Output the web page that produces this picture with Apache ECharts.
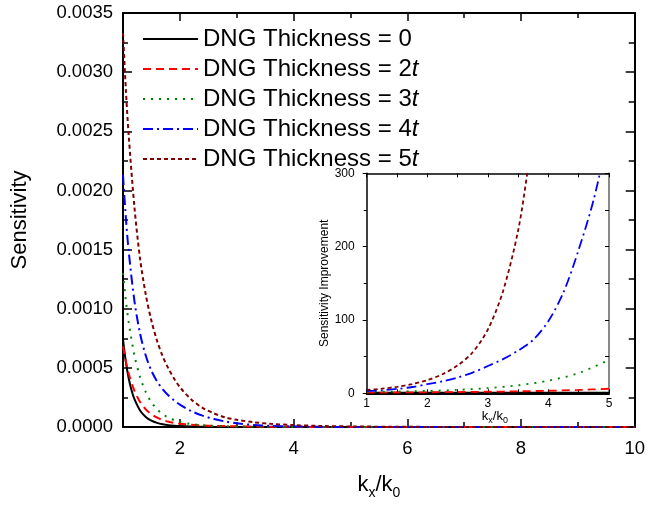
<!DOCTYPE html>
<html>
<head>
<meta charset="utf-8">
<script src="https://cdn.jsdelivr.net/npm/echarts@6/dist/echarts.min.js"></script>
<style>
  html, body { margin: 0; padding: 0; background: #fff; }
  #chart { width: 648px; height: 505px; }
</style>
</head>
<body>
<div id="chart"></div>
<script>
// ---------- main panel: sensitivity versus kx/k0 ----------
const xT0 = [1.0, 1.05, 1.1, 1.15, 1.2, 1.3, 1.4, 1.5, 1.6, 1.7, 1.8, 1.9, 2.0, 2.2, 2.5, 3.0, 4.0, 10];
const sT0 = [0.00074, 0.00055, 0.000412, 0.000311, 0.000237, 0.00014, 0.0000853, 0.0000536, 0.0000347, 0.0000232, 0.0000159, 0.0000113, 0.0000082, 0.0000045, 0.0000018, 0.0000004, 0, 0];

const xT2 = [1.0, 1.05, 1.1, 1.2, 1.3, 1.4, 1.5, 1.6, 1.7, 1.8, 1.9, 2.0, 2.2, 2.4, 2.6, 2.8, 3.0, 3.5, 4.0, 5.0, 10];
const sT2 = [0.000683, 0.000555, 0.000453, 0.000307, 0.000212, 0.000149, 0.000107, 0.0000788, 0.0000589, 0.000045, 0.000035, 0.0000279, 0.0000187, 0.0000135, 0.00001, 0.0000074, 0.0000055, 0.0000026, 0.0000013, 0.0000003, 0];

const xT3 = [1.0, 1.05, 1.1, 1.2, 1.3, 1.4, 1.5, 1.6, 1.7, 1.8, 1.9, 2.0, 2.2, 2.4, 2.6, 2.8, 3.0, 3.5, 4.0, 10];
const sT3 = [0.0013, 0.001071, 0.000885, 0.000608, 0.000422, 0.000296, 0.00021, 0.00015, 0.000108, 0.000079, 0.0000583, 0.0000434, 0.0000248, 0.0000147, 0.0000091, 0.0000059, 0.0000039, 0.0000016, 0.0000007, 0];

const xT4 = [1.0, 1.05, 1.1, 1.2, 1.3, 1.4, 1.5, 1.6, 1.7, 1.8, 1.9, 2.0, 2.2, 2.4, 2.6, 2.8, 3.0, 3.3, 3.6, 4.0, 4.5, 5.0, 10];
const sT4 = [0.00213, 0.00177, 0.001486, 0.001068, 0.000791, 0.000604, 0.000475, 0.000385, 0.000319, 0.000266, 0.000224, 0.000189, 0.000135, 0.0000959, 0.0000676, 0.0000462, 0.0000313, 0.0000172, 0.0000096, 0.0000045, 0.0000017, 0.0000007, 0];

const xT5 = [1.0, 1.05, 1.1, 1.2, 1.3, 1.4, 1.5, 1.6, 1.7, 1.8, 1.9, 2.0, 2.2, 2.4, 2.6, 2.8, 3.0, 3.3, 3.6, 4.0, 4.5, 5.0, 6.0, 7.0, 10];
const sT5 = [0.00333, 0.002852, 0.002467, 0.001864, 0.001423, 0.00112, 0.000898, 0.000728, 0.000596, 0.000493, 0.000408, 0.000337, 0.000233, 0.000162, 0.000115, 0.0000815, 0.000061, 0.0000401, 0.0000269, 0.000016, 0.0000086, 0.0000047, 0.0000015, 0.0000005, 0];

// ---------- inset: sensitivity improvement ----------
const xiT0 = [1, 5];
const rT0 = [1, 1];
const xiT2 = [1, 1.5, 2, 2.5, 3, 3.5, 4, 4.5, 5];
const rT2 = [0.92, 1.12, 1.38, 1.72, 2.15, 2.7, 3.5, 4.6, 6.2];
const xiT3 = [1, 1.5, 2, 2.5, 3, 3.5, 4, 4.5, 5];
const rT3 = [1.8, 2.38, 3.28, 4.7, 7.02, 10.9, 17.3, 27.6, 45.5];
const xiT4 = [1, 1.25, 1.5, 1.75, 2, 2.25, 2.5, 2.75, 3, 3.25, 3.5, 3.75, 4, 4.25, 4.5, 4.75, 5];
const rT4 = [2.9, 4.17, 5.99, 8.61, 12.4, 16.3, 21.5, 28.2, 37.2, 46.6, 58.3, 73, 98.5, 138, 196, 265, 357];
const xiT5 = [1, 1.25, 1.5, 1.75, 2, 2.25, 2.5, 2.75, 3, 3.25, 3.5, 3.65, 3.75];
const rT5 = [4.5, 6.3, 8.9, 12.6, 18, 26, 38, 56, 87, 139, 222, 300, 365];

// ---------- labels and ticks ----------
const legendNames = ['DNG Thickness = 0', 'DNG Thickness = 2t', 'DNG Thickness = 3t', 'DNG Thickness = 4t', 'DNG Thickness = 5t'];
const mainXLabels = [2, 4, 6, 8, 10];
const mainXMajor = [2, 4, 6, 8];
const mainXMinor = [3, 5, 7, 9];

const FONT = '"Liberation Sans", Arial, Helvetica, sans-serif';

const styles = [
  { color: '#000000', type: 'solid' },
  { color: '#ff0000', type: [8, 5] },
  { color: '#008000', type: [2, 6] },
  { color: '#0000ff', type: [10, 4, 2, 4] },
  { color: '#800000', type: [4, 3] }
];

const pairs = (xs, ys) => xs.map((x, i) => [x, ys[i]]);
const mainData = [pairs(xT0, sT0), pairs(xT2, sT2), pairs(xT3, sT3), pairs(xT4, sT4), pairs(xT5, sT5)];
const insetData = [pairs(xiT0, rT0), pairs(xiT2, rT2), pairs(xiT3, rT3), pairs(xiT4, rT4), pairs(xiT5, rT5)];
const insetNames = ['ratio 0', 'ratio 2t', 'ratio 3t', 'ratio 4t', 'ratio 5t'];

const blackLine = { color: '#000', width: 2 };

const series = [];
mainData.forEach((d, i) => {
  series.push({
    name: legendNames[i], type: 'line', xAxisIndex: 0, yAxisIndex: 0,
    data: d, showSymbol: false, symbol: 'none', smooth: 0.3,
    lineStyle: { color: styles[i].color, type: styles[i].type, width: 2 },
    itemStyle: { color: styles[i].color }, z: 3
  });
});
insetData.forEach((d, i) => {
  series.push({
    name: insetNames[i], type: 'line', xAxisIndex: 4, yAxisIndex: 2,
    data: d, showSymbol: false, symbol: 'none', smooth: 0.3,
    lineStyle: { color: styles[i].color, type: styles[i].type, width: 1.8 },
    itemStyle: { color: styles[i].color }, z: 3
  });
});

const subRich = {
  m: { fontSize: 22, fontFamily: FONT, color: '#000', lineHeight: 26, verticalAlign: 'top' },
  s: { fontSize: 14, fontFamily: FONT, color: '#000', lineHeight: 10, verticalAlign: 'bottom' }
};
const subRichSmall = {
  m: { fontSize: 13, fontFamily: FONT, color: '#000', lineHeight: 15, verticalAlign: 'top' },
  s: { fontSize: 9, fontFamily: FONT, color: '#000', lineHeight: 6, verticalAlign: 'bottom' }
};

const option = {
  animation: false,
  backgroundColor: '#fff',
  textStyle: { fontFamily: FONT },
  grid: [
    { left: 123, top: 13, width: 514.5, height: 418.7 },
    { left: 366.7, top: 173.3, width: 242.3, height: 220 }
  ],
  legend: {
    data: legendNames,
    orient: 'vertical', left: 137, top: 22,
    itemWidth: 55, itemHeight: 14, itemGap: 6, itemTextGap: 8,
    itemStyle: { opacity: 0 },
    textStyle: { fontSize: 24, fontFamily: FONT, color: '#000', lineHeight: 24,
      rich: { it: { fontSize: 24, fontFamily: FONT, fontStyle: 'italic', color: '#000' } } },
    formatter: name => name.replace(/(\d)t$/, '$1{it|t}'),
    selectedMode: false
  },
  xAxis: [
    { gridIndex: 0, type: 'value', min: 1, max: 10, position: 'bottom',
      axisLine: { onZero: false, lineStyle: blackLine },
      axisTick: { inside: true, length: 8, customValues: mainXMajor, lineStyle: { color: '#000', width: 1.5 } },
      axisLabel: { customValues: mainXLabels, fontSize: 18.5, color: '#000', margin: 12, fontFamily: FONT },
      splitLine: { show: false },
      name: '{m|k}{s|x}{m|/k}{s|0}', nameLocation: 'middle', nameGap: 47,
      nameTextStyle: { rich: subRich } },
    { gridIndex: 0, type: 'value', min: 1, max: 10, position: 'bottom',
      axisLine: { show: false, onZero: false },
      axisTick: { inside: true, length: 5, customValues: mainXMinor, lineStyle: { color: '#000', width: 1.5 } },
      axisLabel: { show: false }, splitLine: { show: false } },
    { gridIndex: 0, type: 'value', min: 1, max: 10, position: 'top',
      axisLine: { onZero: false, lineStyle: blackLine },
      axisTick: { inside: true, length: 8, customValues: mainXMajor, lineStyle: { color: '#000', width: 1.5 } },
      axisLabel: { show: false }, splitLine: { show: false } },
    { gridIndex: 0, type: 'value', min: 1, max: 10, position: 'top',
      axisLine: { show: false, onZero: false },
      axisTick: { inside: true, length: 5, customValues: mainXMinor, lineStyle: { color: '#000', width: 1.5 } },
      axisLabel: { show: false }, splitLine: { show: false } },
    { gridIndex: 1, type: 'value', min: 1, max: 5, interval: 1, position: 'bottom',
      axisLine: { onZero: false, lineStyle: { color: '#000', width: 2 } },
      axisTick: { inside: true, length: 4, lineStyle: { color: '#000', width: 1 } },
      minorTick: { show: true, splitNumber: 2, length: 4, lineStyle: { color: '#000', width: 1 } },
      axisLabel: { fontSize: 12, color: '#000', margin: 4, fontFamily: FONT },
      splitLine: { show: false },
      name: '{m|k}{s|x}{m|/k}{s|0}', nameLocation: 'middle', nameGap: 17,
      nameTextStyle: { rich: subRichSmall, padding: [0, 0, 0, 14] } },
    { gridIndex: 1, type: 'value', min: 1, max: 5, interval: 1, position: 'top',
      axisLine: { onZero: false, lineStyle: { color: '#000', width: 1.5 } },
      axisTick: { inside: true, length: 4, lineStyle: { color: '#000', width: 1 } },
      minorTick: { show: true, splitNumber: 2, length: 4, lineStyle: { color: '#000', width: 1 } },
      axisLabel: { show: false }, splitLine: { show: false } }
  ],
  yAxis: [
    { gridIndex: 0, type: 'value', min: 0, max: 0.0035, interval: 0.0005, position: 'left',
      axisLine: { show: true, onZero: false, lineStyle: blackLine },
      axisTick: { inside: true, length: 9, lineStyle: { color: '#000', width: 1.5 } },
      minorTick: { show: true, splitNumber: 2, length: 5, lineStyle: { color: '#000', width: 1.5 } },
      axisLabel: { fontSize: 18.5, color: '#000', margin: 10, fontFamily: FONT, formatter: v => v.toFixed(4) },
      splitLine: { show: false },
      name: 'Sensitivity', nameLocation: 'middle', nameGap: 92,
      nameTextStyle: { fontSize: 22, color: '#000', fontFamily: FONT } },
    { gridIndex: 0, type: 'value', min: 0, max: 0.0035, interval: 0.0005, position: 'right',
      axisLine: { show: true, onZero: false, lineStyle: blackLine },
      axisTick: { inside: true, length: 9, lineStyle: { color: '#000', width: 1.5 } },
      minorTick: { show: true, splitNumber: 2, length: 6, lineStyle: { color: '#000', width: 1.5 } },
      axisLabel: { show: false }, splitLine: { show: false } },
    { gridIndex: 1, type: 'value', min: 0, max: 300, interval: 100, position: 'left',
      axisLine: { show: true, onZero: false, lineStyle: { color: '#000', width: 1.5 } },
      axisTick: { inside: false, length: 4, lineStyle: { color: '#000', width: 1 } },
      minorTick: { show: true, splitNumber: 2, length: 3, lineStyle: { color: '#000', width: 1 } },
      axisLabel: { fontSize: 12, color: '#000', margin: 12, fontFamily: FONT },
      splitLine: { show: false },
      name: 'Sensitivity Improvement', nameLocation: 'middle', nameGap: 23,
      nameTextStyle: { fontSize: 12, color: '#000', fontFamily: FONT } },
    { gridIndex: 1, type: 'value', min: 0, max: 300, interval: 100, position: 'right',
      axisLine: { show: true, onZero: false, lineStyle: { color: '#8a8a8a', width: 2 } },
      axisTick: { inside: true, length: 4, lineStyle: { color: '#000', width: 1 } },
      minorTick: { show: true, splitNumber: 2, length: 4, lineStyle: { color: '#000', width: 1 } },
      axisLabel: { show: false }, splitLine: { show: false } }
  ],
  series: series
};

const chart = echarts.init(document.getElementById('chart'), null, { renderer: 'canvas' });
chart.setOption(option);
</script>
</body>
</html>
